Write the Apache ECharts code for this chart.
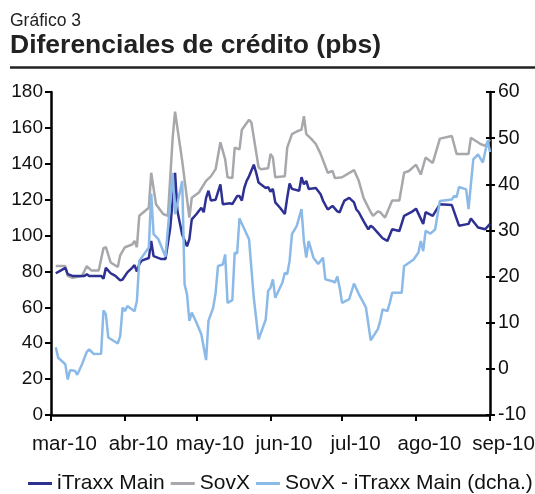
<!DOCTYPE html>
<html lang="es">
<head>
<meta charset="utf-8">
<title>Diferenciales de crédito</title>
<script src="https://cdn.jsdelivr.net/npm/echarts@6.0.0/dist/echarts.min.js"></script>
<style>
    html, body {margin: 0; padding: 0; background: #fff;}
    #grafico-3 {width: 535px; height: 494px;}
</style>
</head>
<body>
<div id="grafico-3"></div>
<script>
// Fechas y valores (pbs)
const fechasITraxx = ['2010-03-03', '2010-03-05', '2010-03-07', '2010-03-08', '2010-03-10', '2010-03-15', '2010-03-16', '2010-03-17',
    '2010-03-22', '2010-03-23', '2010-03-24', '2010-03-26', '2010-03-28', '2010-03-30', '2010-03-31', '2010-04-02', '2010-04-04',
    '2010-04-05', '2010-04-06', '2010-04-07', '2010-04-08', '2010-04-11', '2010-04-12', '2010-04-13', '2010-04-16', '2010-04-18',
    '2010-04-20', '2010-04-22', '2010-04-23', '2010-04-25', '2010-04-27', '2010-04-28', '2010-04-29', '2010-05-01', '2010-05-03',
    '2010-05-04', '2010-05-05', '2010-05-06', '2010-05-07', '2010-05-09', '2010-05-11', '2010-05-12', '2010-05-15', '2010-05-16',
    '2010-05-18', '2010-05-19', '2010-05-20', '2010-05-21', '2010-05-22', '2010-05-23', '2010-05-25', '2010-05-26', '2010-05-27',
    '2010-05-29', '2010-05-30', '2010-05-31', '2010-06-01', '2010-06-02', '2010-06-03', '2010-06-05', '2010-06-07', '2010-06-08',
    '2010-06-09', '2010-06-10', '2010-06-13', '2010-06-14', '2010-06-15', '2010-06-16', '2010-06-17', '2010-06-20', '2010-06-22',
    '2010-06-23', '2010-06-25', '2010-06-27', '2010-06-29', '2010-06-30', '2010-07-01', '2010-07-02', '2010-07-04', '2010-07-06',
    '2010-07-07', '2010-07-08', '2010-07-10', '2010-07-12', '2010-07-13', '2010-07-14', '2010-07-16', '2010-07-18', '2010-07-20',
    '2010-07-22', '2010-07-25', '2010-07-27', '2010-07-30', '2010-08-01', '2010-08-04', '2010-08-05', '2010-08-08', '2010-08-11',
    '2010-08-16', '2010-08-19', '2010-08-23', '2010-08-24', '2010-08-27', '2010-08-30', '2010-09-01'];
const iTraxxMain = [79, 80.5, 82, 78.5, 77.5, 77.5, 78.5, 77.5,
    77.5, 76, 82, 79, 77.5, 75, 75.5, 79.5, 82,
    83.5, 80, 84, 86, 87.5, 97, 88.5, 87, 87,
    104.5, 135, 113.5, 100.5, 94, 98, 109, 112, 115.5,
    113, 121, 125, 119.5, 120, 128.5, 117.5, 118, 117.5,
    122, 122, 119.5, 126.5, 130.5, 133, 139.5, 135, 129.5,
    127.5, 126.5, 127, 124.5, 126, 118.5, 115.5, 112, 121,
    129, 126, 125, 132.5, 128.5, 130.5, 126, 126.5, 123,
    119.5, 114.5, 116.5, 113.5, 113, 116.5, 119.5, 121, 118.5,
    114.5, 113, 108, 103.5, 105.5, 104.5, 101.5, 98.5, 97,
    103.5, 102.5, 111, 113, 115, 106.5, 113, 111, 117.5,
    117, 105.5, 106.5, 109.5, 104.5, 103.5, 106.5];

const fechasSovX = ['2010-03-03', '2010-03-07', '2010-03-08', '2010-03-10', '2010-03-14', '2010-03-16', '2010-03-18', '2010-03-21',
    '2010-03-23', '2010-03-24', '2010-03-26', '2010-03-29', '2010-03-30', '2010-04-01', '2010-04-04', '2010-04-05', '2010-04-06',
    '2010-04-07', '2010-04-11', '2010-04-12', '2010-04-14', '2010-04-17', '2010-04-19', '2010-04-21', '2010-04-22', '2010-04-25',
    '2010-04-28', '2010-04-29', '2010-05-02', '2010-05-05', '2010-05-07', '2010-05-09', '2010-05-11', '2010-05-13', '2010-05-14',
    '2010-05-16', '2010-05-17', '2010-05-19', '2010-05-20', '2010-05-23', '2010-05-24', '2010-05-27', '2010-05-28', '2010-05-31',
    '2010-06-01', '2010-06-02', '2010-06-03', '2010-06-07', '2010-06-08', '2010-06-10', '2010-06-12', '2010-06-14', '2010-06-15',
    '2010-06-16', '2010-06-18', '2010-06-20', '2010-06-22', '2010-06-25', '2010-06-27', '2010-06-28', '2010-07-01', '2010-07-06',
    '2010-07-08', '2010-07-10', '2010-07-13', '2010-07-14', '2010-07-16', '2010-07-17', '2010-07-19', '2010-07-22', '2010-07-25',
    '2010-07-27', '2010-07-29', '2010-08-01', '2010-08-03', '2010-08-05', '2010-08-08', '2010-08-11', '2010-08-16', '2010-08-18',
    '2010-08-23', '2010-08-24', '2010-08-28', '2010-08-30', '2010-09-01'];
const sovX = [83, 83, 77.5, 76.5, 77.5, 83, 80.5, 80.5,
    93, 93.5, 85, 82.5, 89, 93.5, 95, 97, 93.5,
    111, 115.5, 135, 117.5, 112, 111, 154.5, 169, 141.5,
    110, 121, 124, 130.5, 133, 137, 152, 142.5, 132.5,
    132, 149, 148, 159, 164.5, 163, 138, 137, 137.5,
    145.5, 143.5, 132.5, 133, 149, 156.5, 158, 159, 166.5,
    156.5, 154, 151, 145.5, 135, 136, 132, 132.5, 136.5,
    130.5, 121, 113, 111, 113.5, 113, 110, 119.5, 119.5,
    135, 136, 139.5, 134, 143.5, 140.5, 154, 155.5, 145.5,
    145.5, 154.5, 151, 150, 153.5];

const fechasDif = ['2010-03-03', '2010-03-04', '2010-03-07', '2010-03-08', '2010-03-09', '2010-03-11', '2010-03-12', '2010-03-14',
    '2010-03-16', '2010-03-17', '2010-03-19', '2010-03-22', '2010-03-23', '2010-03-24', '2010-03-25', '2010-03-29', '2010-03-30',
    '2010-03-31', '2010-04-01', '2010-04-02', '2010-04-05', '2010-04-06', '2010-04-07', '2010-04-11', '2010-04-12', '2010-04-13',
    '2010-04-15', '2010-04-18', '2010-04-21', '2010-04-22', '2010-04-25', '2010-04-26', '2010-04-27', '2010-04-28', '2010-04-29',
    '2010-05-01', '2010-05-03', '2010-05-05', '2010-05-06', '2010-05-08', '2010-05-09', '2010-05-10', '2010-05-12', '2010-05-13',
    '2010-05-14', '2010-05-16', '2010-05-17', '2010-05-18', '2010-05-19', '2010-05-23', '2010-05-25', '2010-05-27', '2010-05-30',
    '2010-05-31', '2010-06-01', '2010-06-02', '2010-06-03', '2010-06-06', '2010-06-07', '2010-06-08', '2010-06-09', '2010-06-10',
    '2010-06-12', '2010-06-14', '2010-06-15', '2010-06-16', '2010-06-17', '2010-06-19', '2010-06-21', '2010-06-23', '2010-06-24',
    '2010-06-27', '2010-06-28', '2010-06-29', '2010-06-30', '2010-07-01', '2010-07-04', '2010-07-06', '2010-07-08', '2010-07-10',
    '2010-07-11', '2010-07-13', '2010-07-16', '2010-07-17', '2010-07-18', '2010-07-20', '2010-07-21', '2010-07-22', '2010-07-26',
    '2010-07-27', '2010-07-28', '2010-07-31', '2010-08-02', '2010-08-03', '2010-08-04', '2010-08-05', '2010-08-07', '2010-08-09',
    '2010-08-11', '2010-08-16', '2010-08-17', '2010-08-18', '2010-08-19', '2010-08-22', '2010-08-23', '2010-08-25', '2010-08-27',
    '2010-08-29', '2010-08-31', '2010-09-01'];
// SovX - iTraxx Main, eje derecho
const sovXMenosITraxx = [4.7, 2.4, 1, -2.3, -0.3, -0.4, -1.3, 1,
    3.7, 4.2, 3.2, 3.3, 12.7, 11.8, 6.8, 5.5, 7.1,
    13.3, 12.5, 13.6, 12.5, 14.7, 23.4, 26.3, 38, 29.2,
    28.1, 24.3, 42.5, 33.5, 40.7, 18.3, 16.2, 10.4, 12.2,
    10, 7.5, 1.9, 10.4, 13.3, 16.5, 22.3, 22.6, 24.8,
    14.3, 14.9, 25.2, 25, 32.6, 28.1, 15.4, 6.4, 10.7,
    16.9, 17.6, 19.4, 15.4, 18.7, 20.8, 20.5, 23.4, 29.2,
    31, 34.6, 27.7, 24.1, 27.7, 24.1, 22.7, 24.1, 19.4,
    19, 18.7, 20, 17.6, 14.3, 15.1, 18.5, 16.2, 14.3,
    13.3, 6.2, 8.6, 10.4, 12.9, 12.5, 14.3, 16.5, 16.5,
    22.3, 22.6, 23.7, 25.2, 27.7, 25.5, 29.9, 29.3, 30.2,
    36.4, 36.7, 37.5, 37.2, 39.4, 38.9, 34.6, 45.4, 46.5,
    44.7, 49.5, 47];

// Marcas del eje de fechas
const fechasTicks = ['2010-03-01', '2010-04-01', '2010-05-01', '2010-06-01', '2010-07-01', '2010-08-01', '2010-09-01'];
const etiquetasTicks = ['mar-10', 'abr-10', 'may-10', 'jun-10', 'jul-10', 'ago-10', 'sep-10'];

const nombresSeries = ['iTraxx Main', 'SovX', 'SovX - iTraxx Main (dcha.)'];

const GRAFICO_3 = function () {
    const fuente = 'Liberation Sans, Arial, sans-serif';
    const negro = '#111';

    // fecha 'aaaa-mm-dd' -> milisegundos (eje numérico)
    const aTimestamp = function (f) {
        const p = f.split('-');
        return Date.UTC(+p[0], +p[1] - 1, +p[2]);
    };

    const pares = function (fechas, valores) {
        return fechas.map((f, i) => [aTimestamp(f), valores[i]]);
    };

    const build = function () {
        const chart = echarts.init(document.getElementById('grafico-3'));
        const ticks = fechasTicks.map(aTimestamp);

        const option = {
            animation: false,
            textStyle: {fontFamily: fuente},
            title: [
                {
                    text: 'Gráfico 3', left: 10, top: 12, padding: 0,
                    textStyle: {fontSize: 17.5, fontWeight: 'normal', color: '#222', fontFamily: fuente}
                },
                {
                    text: 'Diferenciales de crédito (pbs)', left: 10, top: 32, padding: 0,
                    textStyle: {fontSize: 26.5, fontWeight: 'bold', color: '#222', fontFamily: fuente}
                }
            ],
            graphic: [{
                type: 'line',
                shape: {x1: 10, y1: 67.5, x2: 535, y2: 67.5},
                style: {stroke: '#222', lineWidth: 2.5}
            }],
            legend: {
                data: nombresSeries,
                left: 28,
                top: 473,
                icon: 'rect',
                itemWidth: 24,
                itemHeight: 3,
                itemGap: 6,
                padding: 0,
                textStyle: {fontSize: 21, color: negro, fontFamily: fuente}
            },
            grid: {left: 51, right: 45, top: 92, bottom: 79, outerBoundsMode: 'none'},
            xAxis: {
                type: 'value',
                min: ticks[0],
                max: ticks[ticks.length - 1],
                axisLine: {lineStyle: {color: '#000', width: 2.5}},
                axisTick: {customValues: ticks, length: 6, lineStyle: {color: '#000', width: 2}},
                axisLabel: {
                    customValues: ticks,
                    fontSize: 20.5,
                    color: negro,
                    margin: 19,
                    padding: [0, 0, 0, 27],
                    formatter: function (v) {
                        const i = ticks.indexOf(v);
                        return i >= 0 ? etiquetasTicks[i] : '';
                    }
                },
                splitLine: {show: false}
            },
            yAxis: [
                {
                    type: 'value', min: 0, max: 180, interval: 20, position: 'left',
                    axisLine: {show: true, lineStyle: {color: '#000', width: 2.5}},
                    axisTick: {show: true, length: 6, lineStyle: {color: '#000', width: 2}},
                    axisLabel: {fontSize: 19, color: negro, margin: 8},
                    splitLine: {show: false}
                },
                {
                    type: 'value', min: -10, max: 60, interval: 10, position: 'right',
                    axisLine: {show: true, lineStyle: {color: '#000', width: 2.5}},
                    axisTick: {show: true, length: 5, lineStyle: {color: '#000', width: 2}},
                    axisLabel: {fontSize: 19.5, color: negro, margin: 8},
                    splitLine: {show: false}
                },
                {
                    // marcas hacia dentro del eje derecho (cruzadas)
                    type: 'value', min: -10, max: 60, interval: 10, position: 'right',
                    axisLine: {show: false},
                    axisTick: {show: true, inside: true, length: 4, lineStyle: {color: '#000', width: 2}},
                    axisLabel: {show: false},
                    splitLine: {show: false}
                }
            ],
            series: [
                {
                    name: nombresSeries[0], type: 'line', yAxisIndex: 0, z: 3,
                    data: pares(fechasITraxx, iTraxxMain),
                    symbol: 'none', showSymbol: false,
                    lineStyle: {color: '#2e3192', width: 2.5}, itemStyle: {color: '#2e3192'}
                },
                {
                    name: nombresSeries[1], type: 'line', yAxisIndex: 0, z: 2,
                    data: pares(fechasSovX, sovX),
                    symbol: 'none', showSymbol: false,
                    lineStyle: {color: '#a7a8ab', width: 2.5}, itemStyle: {color: '#a7a8ab'}
                },
                {
                    name: nombresSeries[2], type: 'line', yAxisIndex: 1, z: 4,
                    data: pares(fechasDif, sovXMenosITraxx),
                    symbol: 'none', showSymbol: false,
                    lineStyle: {color: '#8cbae8', width: 2.5}, itemStyle: {color: '#8cbae8'}
                }
            ]
        };

        chart.setOption(option);
    };

    return {
        init: function () {
            build();
        }
    };
}();

GRAFICO_3.init();
</script>
</body>
</html>
